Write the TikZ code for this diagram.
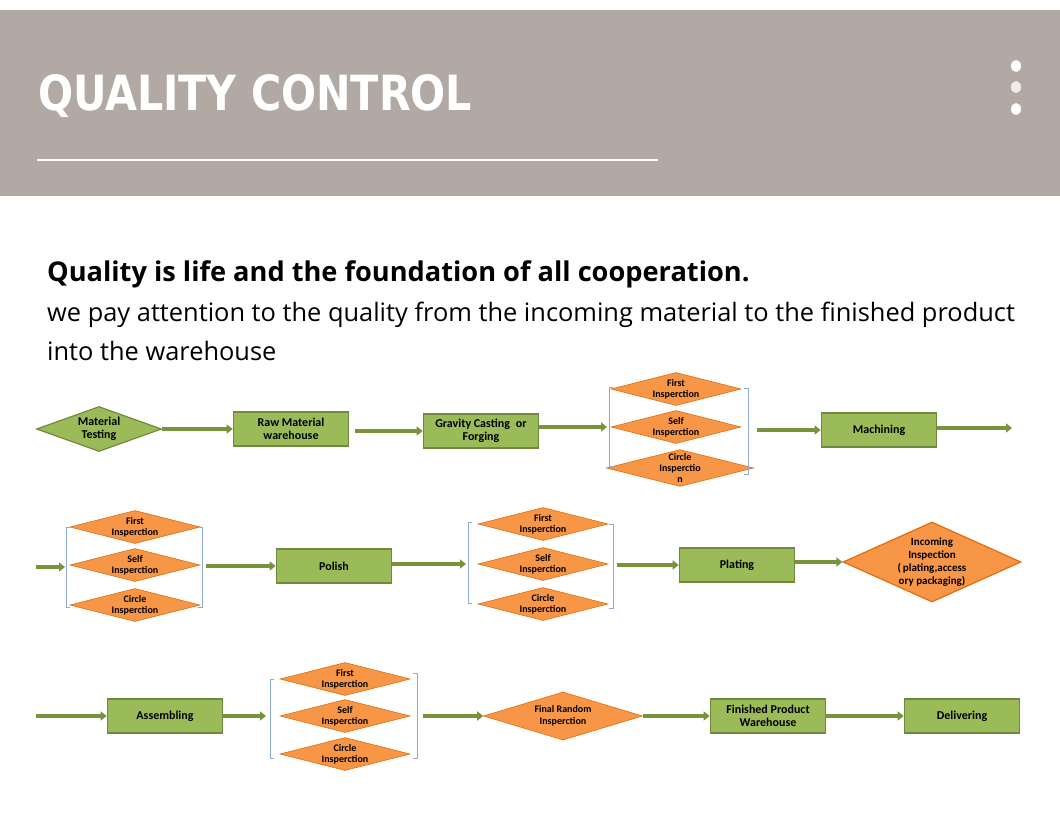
\documentclass[tikz,border=0pt]{standalone}
\usepackage{fontspec}
\usepackage{graphicx}
\setmainfont{Open Sans}
\newfontfamily\boxfont{Carlito}
\newfontfamily\titlefont{DejaVu Sans Condensed}
\usetikzlibrary{shapes.geometric,arrows.meta}
\definecolor{hdr}{HTML}{B2A9A4}
\definecolor{gfill}{HTML}{9BBB59}
\definecolor{gline}{HTML}{71893F}
\definecolor{arr}{HTML}{77933C}
\definecolor{ofill}{HTML}{F79646}
\definecolor{oline}{HTML}{E46C0A}
\definecolor{brk}{HTML}{8EA9DB}
\tikzset{
 gbox/.style={draw=gline,line width=1.6pt,fill=gfill,minimum width=#1,minimum height=34pt,align=center,font=\boxfont\bfseries\fontsize{12}{13}\selectfont,inner sep=1pt},
 gbox/.default=115pt,
 odia/.style={diamond,fill=ofill,draw=oline,line width=0.6pt,inner sep=-1pt,shape aspect=4,minimum width=130pt,minimum height=33pt,align=center,font=\boxfont\bfseries\fontsize{10}{11}\selectfont},
 flow/.style={draw=arr,line width=3.5pt,-{Triangle[length=6pt,width=9pt]}},
 brack/.style={draw=brk,line width=0.8pt},
}
\begin{document}
\begin{tikzpicture}[x=1pt,y=-1pt]
\useasboundingbox (0,0) rectangle (1060,838);
\fill[white] (0,0) rectangle (1060,838);
% header
\fill[hdr] (0,10) rectangle (1060,196);
\node[anchor=west,text=white,inner sep=0] (title) at (38,96) {\resizebox{434pt}{36pt}{\titlefont\bfseries QUALITY CONTROL}};
\draw[white,line width=2.5pt] (37,160) -- (658,160);
\fill[white] (1016,66) ellipse (5 and 6);
\fill[white!80!hdr] (1016,87) ellipse (5 and 6);
\fill[white] (1016,109) ellipse (5 and 6);
% text
\node[anchor=base west,inner sep=0,font=\bfseries\fontsize{27.2}{30}\selectfont] (h1) at (47,281) {Quality is life and the foundation of all cooperation.};
\node[anchor=base west,inner sep=0,font=\fontsize{25.4}{30}\selectfont] (h2) at (47,321) {we pay attention to the quality from the incoming material to the finished product};
\node[anchor=base west,inner sep=0,font=\fontsize{25.4}{30}\selectfont] (h3) at (47,360) {into the warehouse};
% row 1
\node[diamond,fill=gfill,draw=gline,line width=1.2pt,inner sep=-2pt,shape aspect=2.8,minimum width=125pt,minimum height=45pt,align=center,font=\boxfont\bfseries\fontsize{12}{13}\selectfont] (mt) at (99,429) {Material\\Testing};
\node[gbox] (raw) at (291,429) {Raw Material\\warehouse};
\node[gbox] (grav) at (481,431) {Gravity Casting\enspace or\\Forging};
\node[odia] (f1) at (676,389) {First\\Insperction};
\node[odia] (s1) at (676,427) {Self\\Insperction};
\node[odia] (c1) at (680,468) {Circle\\Insperctio\\n};
\node[gbox] (mach) at (879,430) {Machining};
\draw[brack] (613,387) -- (609,387) -- (609,466) -- (613,466);
\draw[brack] (744,388) -- (748,388) -- (748,474) -- (744,474);
\coordinate (b1l) at (607,427);
\coordinate (b1r) at (757,430);
\coordinate (e1) at (1012,428);
\draw[flow] (mt) -- (raw);
\draw[flow] (grav.west -| raw.east) ++(6,0) -- (grav.west);
\draw[flow] (grav.east |- b1l) -- (b1l);
\draw[flow] (b1r) -- (mach.west);
\draw[flow] (mach.east |- e1) -- (e1);
% row 2
\coordinate (s2) at (36,567);
\coordinate (b2l) at (65,567);
\node[odia] (f2) at (135,527) {First\\Insperction};
\node[odia] (s2d) at (135,565) {Self\\Insperction};
\node[odia] (c2) at (135,605) {Circle\\Insperction};
\draw[brack] (70,527) -- (66,527) -- (66,607) -- (70,607);
\draw[brack] (198,527) -- (202,527) -- (202,607) -- (198,607);
\coordinate (b2r) at (206,566);
\node[gbox] (pol) at (334,566) {Polish};
\coordinate (b3l) at (466,564);
\node[odia] (f3) at (543,524) {First\\Insperction};
\node[odia] (s3) at (543,564) {Self\\Insperction};
\node[odia] (c3) at (543,604) {Circle\\Insperction};
\draw[brack] (472,522) -- (468,522) -- (468,603) -- (472,603);
\draw[brack] (609,524) -- (613,524) -- (613,608) -- (609,608);
\coordinate (b3r) at (617,565);
\node[gbox] (plat) at (737,565) {Plating};
\node[diamond,fill=ofill,draw=oline,line width=1.2pt,inner sep=-7pt,shape aspect=2.2,minimum width=178pt,minimum height=80pt,align=center,font=\boxfont\bfseries\fontsize{11}{13}\selectfont] (inc) at (932,562) {Incoming\\Inspection\\(\,plating,access\\ory packaging)};
\draw[flow] (s2) -- (b2l);
\draw[flow] (b2r) -- (pol.west);
\draw[flow] (pol.east |- b3l) -- (b3l);
\draw[flow] (b3r) -- (plat.west);
\draw[flow] (plat.east |- inc) -- (inc.west);
% row 3
\coordinate (s3s) at (36,716);
\node[gbox] (asm) at (165,716) {Assembling};
\node[odia] (f4) at (345,679) {First\\Insperction};
\node[odia] (s4) at (345,716) {Self\\Insperction};
\node[odia] (c4) at (345,754) {Circle\\Insperction};
\draw[brack] (274,679) -- (270,679) -- (270,758) -- (274,758);
\draw[brack] (413,673) -- (417,673) -- (417,758) -- (413,758);
\coordinate (b4l) at (266,716);
\coordinate (b4r) at (423,716);
\node[diamond,fill=ofill,draw=oline,line width=0.6pt,inner sep=0pt,shape aspect=3.3,minimum width=159pt,minimum height=48pt,align=center,font=\boxfont\bfseries\fontsize{10}{12}\selectfont] (fin) at (563,716) {Final Random\\Insperction};
\node[gbox] (fpw) at (768,716) {Finished Product\\Warehouse};
\node[gbox] (del) at (962,716) {Delivering};
\draw[flow] (s3s) -- (asm.west);
\draw[flow] (asm.east) -- (b4l);
\draw[flow] (b4r) -- (fin.west);
\draw[flow] (fin.east) -- (fpw.west);
\draw[flow] (fpw.east) -- (del.west);
\end{tikzpicture}
\end{document}
